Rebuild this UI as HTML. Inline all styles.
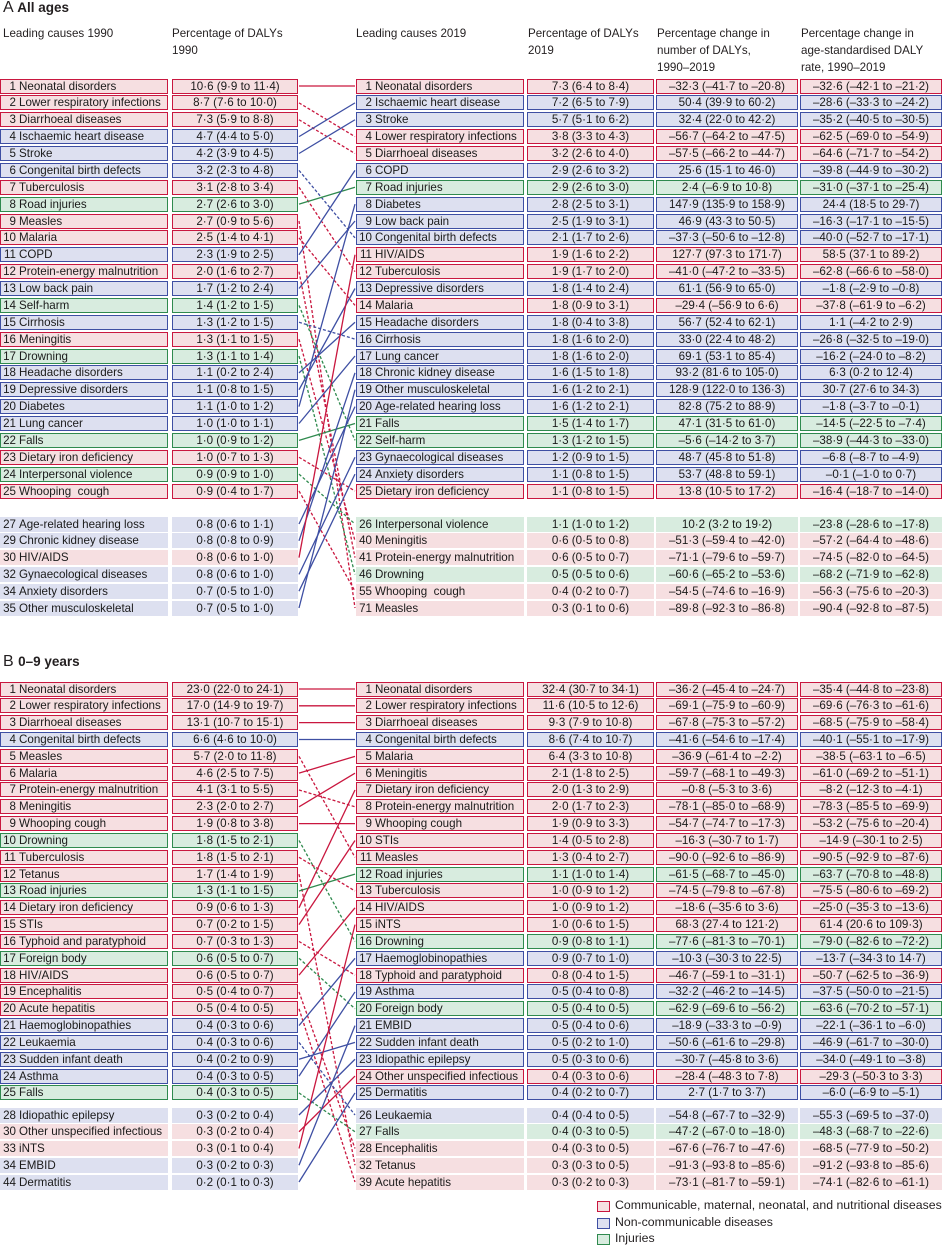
<!DOCTYPE html>
<html><head><meta charset="utf-8">
<style>
body{margin:0;background:#fff;font-family:"Liberation Sans",sans-serif;color:#231f20;}
#page{position:relative;width:942px;height:1249px;overflow:hidden;}
.t{position:absolute;white-space:nowrap;font-size:11px;}
.h{position:absolute;font-size:11.6px;line-height:17px;color:#231f20;}
.box{position:absolute;height:15px;box-sizing:border-box;font-size:11.6px;line-height:13px;white-space:nowrap;overflow:hidden;color:#1a1a1a;}
.c{text-align:center;}
svg{position:absolute;left:0;top:0;}
</style></head><body>
<div id="page">
<div class="t" style="left:3px;top:-1px;font-size:16px;">A <b style="font-size:13.5px">All ages</b></div>
<div class="h" style="left:3px;top:25px">Leading causes 1990</div>
<div class="h" style="left:172px;top:25px">Percentage of DALYs<br>1990</div>
<div class="h" style="left:356px;top:25px">Leading causes 2019</div>
<div class="h" style="left:528px;top:25px">Percentage of DALYs<br>2019</div>
<div class="h" style="left:657px;top:25px">Percentage change in<br>number of DALYs,<br>1990–2019</div>
<div class="h" style="left:801px;top:25px">Percentage change in<br>age-standardised DALY<br>rate, 1990–2019</div>
<div class="t" style="left:3px;top:653px;font-size:16px;">B <b style="font-size:13.5px">0–9 years</b></div>
<svg id="lines" width="942" height="1249"></svg>
<div id="legend">
<div class="box" style="left:597px;top:1201px;width:13px;height:11px;border:1.3px solid #c9173f;background:#f6dfe1"></div>
<div class="t" style="left:615px;top:1198px;font-size:12.3px">Communicable, maternal, neonatal, and nutritional diseases</div>
<div class="box" style="left:597px;top:1218px;width:13px;height:11px;border:1.3px solid #3e4fa3;background:#dde0f0"></div>
<div class="t" style="left:615px;top:1215px;font-size:12.3px">Non-communicable diseases</div>
<div class="box" style="left:597px;top:1234px;width:13px;height:11px;border:1.3px solid #2f8a4e;background:#d8ecdf"></div>
<div class="t" style="left:615px;top:1231px;font-size:12.3px">Injuries</div>
</div>
</div>
<script>
// ---- Panel A data ----
const aLRank=[1,2,3,4,5,6,7,8,9,10,11,12,13,14,15,16,17,18,19,20,21,22,23,24,25,27,29,30,32,34,35];
const aLName=["Neonatal disorders","Lower respiratory infections","Diarrhoeal diseases","Ischaemic heart disease","Stroke","Congenital birth defects","Tuberculosis","Road injuries","Measles","Malaria","COPD","Protein-energy malnutrition","Low back pain","Self-harm","Cirrhosis","Meningitis","Drowning","Headache disorders","Depressive disorders","Diabetes","Lung cancer","Falls","Dietary iron deficiency","Interpersonal violence","Whooping  cough","Age-related hearing loss","Chronic kidney disease","HIV/AIDS","Gynaecological diseases","Anxiety disorders","Other musculoskeletal"];
const aLCat="CCCNNNCICCNCNINCINNNNICICNNCNNN";
const aLPct=["10·6 (9·9 to 11·4)","8·7 (7·6 to 10·0)","7·3 (5·9 to 8·8)","4·7 (4·4 to 5·0)","4·2 (3·9 to 4·5)","3·2 (2·3 to 4·8)","3·1 (2·8 to 3·4)","2·7 (2·6 to 3·0)","2·7 (0·9 to 5·6)","2·5 (1·4 to 4·1)","2·3 (1·9 to 2·5)","2·0 (1·6 to 2·7)","1·7 (1·2 to 2·4)","1·4 (1·2 to 1·5)","1·3 (1·2 to 1·5)","1·3 (1·1 to 1·5)","1·3 (1·1 to 1·4)","1·1 (0·2 to 2·4)","1·1 (0·8 to 1·5)","1·1 (1·0 to 1·2)","1·0 (1·0 to 1·1)","1·0 (0·9 to 1·2)","1·0 (0·7 to 1·3)","0·9 (0·9 to 1·0)","0·9 (0·4 to 1·7)","0·8 (0·6 to 1·1)","0·8 (0·8 to 0·9)","0·8 (0·6 to 1·0)","0·8 (0·6 to 1·0)","0·7 (0·5 to 1·0)","0·7 (0·5 to 1·0)"];
const aRRank=[1,2,3,4,5,6,7,8,9,10,11,12,13,14,15,16,17,18,19,20,21,22,23,24,25,26,40,41,46,55,71];
const aRName=["Neonatal disorders","Ischaemic heart disease","Stroke","Lower respiratory infections","Diarrhoeal diseases","COPD","Road injuries","Diabetes","Low back pain","Congenital birth defects","HIV/AIDS","Tuberculosis","Depressive disorders","Malaria","Headache disorders","Cirrhosis","Lung cancer","Chronic kidney disease","Other musculoskeletal","Age-related hearing loss","Falls","Self-harm","Gynaecological diseases","Anxiety disorders","Dietary iron deficiency","Interpersonal violence","Meningitis","Protein-energy malnutrition","Drowning","Whooping  cough","Measles"];
const aRCat="CNNCCNINNNCCNCNNNNNNIINNCICCICC";
const aRPct=["7·3 (6·4 to 8·4)","7·2 (6·5 to 7·9)","5·7 (5·1 to 6·2)","3·8 (3·3 to 4·3)","3·2 (2·6 to 4·0)","2·9 (2·6 to 3·2)","2·9 (2·6 to 3·0)","2·8 (2·5 to 3·1)","2·5 (1·9 to 3·1)","2·1 (1·7 to 2·6)","1·9 (1·6 to 2·2)","1·9 (1·7 to 2·0)","1·8 (1·4 to 2·4)","1·8 (0·9 to 3·1)","1·8 (0·4 to 3·8)","1·8 (1·6 to 2·0)","1·8 (1·6 to 2·0)","1·6 (1·5 to 1·8)","1·6 (1·2 to 2·1)","1·6 (1·2 to 2·1)","1·5 (1·4 to 1·7)","1·3 (1·2 to 1·5)","1·2 (0·9 to 1·5)","1·1 (0·8 to 1·5)","1·1 (0·8 to 1·5)","1·1 (1·0 to 1·2)","0·6 (0·5 to 0·8)","0·6 (0·5 to 0·7)","0·5 (0·5 to 0·6)","0·4 (0·2 to 0·7)","0·3 (0·1 to 0·6)"];
const aRChange=["–32·3 (–41·7 to –20·8)","50·4 (39·9 to 60·2)","32·4 (22·0 to 42·2)","–56·7 (–64·2 to –47·5)","–57·5 (–66·2 to –44·7)","25·6 (15·1 to 46·0)","2·4 (–6·9 to 10·8)","147·9 (135·9 to 158·9)","46·9 (43·3 to 50·5)","–37·3 (–50·6 to –12·8)","127·7 (97·3 to 171·7)","–41·0 (–47·2 to –33·5)","61·1 (56·9 to 65·0)","–29·4 (–56·9 to 6·6)","56·7 (52·4 to 62·1)","33·0 (22·4 to 48·2)","69·1 (53·1 to 85·4)","93·2 (81·6 to 105·0)","128·9 (122·0 to 136·3)","82·8 (75·2 to 88·9)","47·1 (31·5 to 61·0)","–5·6 (–14·2 to 3·7)","48·7 (45·8 to 51·8)","53·7 (48·8 to 59·1)","13·8 (10·5 to 17·2)","10·2 (3·2 to 19·2)","–51·3 (–59·4 to –42·0)","–71·1 (–79·6 to –59·7)","–60·6 (–65·2 to –53·6)","–54·5 (–74·6 to –16·9)","–89·8 (–92·3 to –86·8)"];
const aRRate=["–32·6 (–42·1 to –21·2)","–28·6 (–33·3 to –24·2)","–35·2 (–40·5 to –30·5)","–62·5 (–69·0 to –54·9)","–64·6 (–71·7 to –54·2)","–39·8 (–44·9 to –30·2)","–31·0 (–37·1 to –25·4)","24·4 (18·5 to 29·7)","–16·3 (–17·1 to –15·5)","–40·0 (–52·7 to –17·1)","58·5 (37·1 to 89·2)","–62·8 (–66·6 to –58·0)","–1·8 (–2·9 to –0·8)","–37·8 (–61·9 to –6·2)","1·1 (–4·2 to 2·9)","–26·8 (–32·5 to –19·0)","–16·2 (–24·0 to –8·2)","6·3 (0·2 to 12·4)","30·7 (27·6 to 34·3)","–1·8 (–3·7 to –0·1)","–14·5 (–22·5 to –7·4)","–38·9 (–44·3 to –33·0)","–6·8 (–8·7 to –4·9)","–0·1 (–1·0 to 0·7)","–16·4 (–18·7 to –14·0)","–23·8 (–28·6 to –17·8)","–57·2 (–64·4 to –48·6)","–74·5 (–82·0 to –64·5)","–68·2 (–71·9 to –62·8)","–56·3 (–75·6 to –20·3)","–90·4 (–92·8 to –87·5)"];
// ---- Panel B data ----
const bLRank=[1,2,3,4,5,6,7,8,9,10,11,12,13,14,15,16,17,18,19,20,21,22,23,24,25,28,30,33,34,44];
const bLName=["Neonatal disorders","Lower respiratory infections","Diarrhoeal diseases","Congenital birth defects","Measles","Malaria","Protein-energy malnutrition","Meningitis","Whooping cough","Drowning","Tuberculosis","Tetanus","Road injuries","Dietary iron deficiency","STIs","Typhoid and paratyphoid","Foreign body","HIV/AIDS","Encephalitis","Acute hepatitis","Haemoglobinopathies","Leukaemia","Sudden infant death","Asthma","Falls","Idiopathic epilepsy","Other unspecified infectious","iNTS","EMBID","Dermatitis"];
const bLCat="CCCNCCCCCICCICCCICCCNNNNINCCNN";
const bLPct=["23·0 (22·0 to 24·1)","17·0 (14·9 to 19·7)","13·1 (10·7 to 15·1)","6·6 (4·6 to 10·0)","5·7 (2·0 to 11·8)","4·6 (2·5 to 7·5)","4·1 (3·1 to 5·5)","2·3 (2·0 to 2·7)","1·9 (0·8 to 3·8)","1·8 (1·5 to 2·1)","1·8 (1·5 to 2·1)","1·7 (1·4 to 1·9)","1·3 (1·1 to 1·5)","0·9 (0·6 to 1·3)","0·7 (0·2 to 1·5)","0·7 (0·3 to 1·3)","0·6 (0·5 to 0·7)","0·6 (0·5 to 0·7)","0·5 (0·4 to 0·7)","0·5 (0·4 to 0·5)","0·4 (0·3 to 0·6)","0·4 (0·3 to 0·6)","0·4 (0·2 to 0·9)","0·4 (0·3 to 0·5)","0·4 (0·3 to 0·5)","0·3 (0·2 to 0·4)","0·3 (0·2 to 0·4)","0·3 (0·1 to 0·4)","0·3 (0·2 to 0·3)","0·2 (0·1 to 0·3)"];
const bRRank=[1,2,3,4,5,6,7,8,9,10,11,12,13,14,15,16,17,18,19,20,21,22,23,24,25,26,27,28,32,39];
const bRName=["Neonatal disorders","Lower respiratory infections","Diarrhoeal diseases","Congenital birth defects","Malaria","Meningitis","Dietary iron deficiency","Protein-energy malnutrition","Whooping cough","STIs","Measles","Road injuries","Tuberculosis","HIV/AIDS","iNTS","Drowning","Haemoglobinopathies","Typhoid and paratyphoid","Asthma","Foreign body","EMBID","Sudden infant death","Idiopathic epilepsy","Other unspecified infectious","Dermatitis","Leukaemia","Falls","Encephalitis","Tetanus","Acute hepatitis"];
const bRCat="CCCNCCCCCCCICCCINCNINNNCNNICCC";
const bRPct=["32·4 (30·7 to 34·1)","11·6 (10·5 to 12·6)","9·3 (7·9 to 10·8)","8·6 (7·4 to 10·7)","6·4 (3·3 to 10·8)","2·1 (1·8 to 2·5)","2·0 (1·3 to 2·9)","2·0 (1·7 to 2·3)","1·9 (0·9 to 3·3)","1·4 (0·5 to 2·8)","1·3 (0·4 to 2·7)","1·1 (1·0 to 1·4)","1·0 (0·9 to 1·2)","1·0 (0·9 to 1·2)","1·0 (0·6 to 1·5)","0·9 (0·8 to 1·1)","0·9 (0·7 to 1·0)","0·8 (0·4 to 1·5)","0·5 (0·4 to 0·8)","0·5 (0·4 to 0·5)","0·5 (0·4 to 0·6)","0·5 (0·2 to 1·0)","0·5 (0·3 to 0·6)","0·4 (0·3 to 0·6)","0·4 (0·2 to 0·7)","0·4 (0·4 to 0·5)","0·4 (0·3 to 0·5)","0·4 (0·3 to 0·5)","0·3 (0·3 to 0·5)","0·3 (0·2 to 0·3)"];
const bRChange=["–36·2 (–45·4 to –24·7)","–69·1 (–75·9 to –60·9)","–67·8 (–75·3 to –57·2)","–41·6 (–54·6 to –17·4)","–36·9 (–61·4 to –2·2)","–59·7 (–68·1 to –49·3)","–0·8 (–5·3 to 3·6)","–78·1 (–85·0 to –68·9)","–54·7 (–74·7 to –17·3)","–16·3 (–30·7 to 1·7)","–90·0 (–92·6 to –86·9)","–61·5 (–68·7 to –45·0)","–74·5 (–79·8 to –67·8)","–18·6 (–35·6 to 3·6)","68·3 (27·4 to 121·2)","–77·6 (–81·3 to –70·1)","–10·3 (–30·3 to 22·5)","–46·7 (–59·1 to –31·1)","–32·2 (–46·2 to –14·5)","–62·9 (–69·6 to –56·2)","–18·9 (–33·3 to –0·9)","–50·6 (–61·6 to –29·8)","–30·7 (–45·8 to 3·6)","–28·4 (–48·3 to 7·8)","2·7 (1·7 to 3·7)","–54·8 (–67·7 to –32·9)","–47·2 (–67·0 to –18·0)","–67·6 (–76·7 to –47·6)","–91·3 (–93·8 to –85·6)","–73·1 (–81·7 to –59·1)"];
const bRRate=["–35·4 (–44·8 to –23·8)","–69·6 (–76·3 to –61·6)","–68·5 (–75·9 to –58·4)","–40·1 (–55·1 to –17·9)","–38·5 (–63·1 to –6·5)","–61·0 (–69·2 to –51·1)","–8·2 (–12·3 to –4·1)","–78·3 (–85·5 to –69·9)","–53·2 (–75·6 to –20·4)","–14·9 (–30·1 to 2·5)","–90·5 (–92·9 to –87·6)","–63·7 (–70·8 to –48·8)","–75·5 (–80·6 to –69·2)","–25·0 (–35·3 to –13·6)","61·4 (20·6 to 109·3)","–79·0 (–82·6 to –72·2)","–13·7 (–34·3 to 14·7)","–50·7 (–62·5 to –36·9)","–37·5 (–50·0 to –21·5)","–63·6 (–70·2 to –57·1)","–22·1 (–36·1 to –6·0)","–46·9 (–61·7 to –30·0)","–34·0 (–49·1 to –3·8)","–29·3 (–50·3 to 3·3)","–6·0 (–6·9 to –5·1)","–55·3 (–69·5 to –37·0)","–48·3 (–68·7 to –22·6)","–68·5 (–77·9 to –50·2)","–91·2 (–93·8 to –85·6)","–74·1 (–82·6 to –61·1)"];

const BORDER={C:"#c9173f",N:"#3e4fa3",I:"#2f8a4e"};
const FILL={C:"#f6dfe1",N:"#dde0f0",I:"#d8ecdf"};
const page=document.getElementById('page');
const svg=document.getElementById('lines');
const NS="http://www.w3.org/2000/svg";

function rowY(i,geo){return i<25?geo.top+i*geo.pitch:geo.bot+(i-25)*geo.bpitch;}
function mkBox(x,w,y,cat,top,html,center,name){
  const d=document.createElement('div');
  d.className='box'+(center?' c':'');
  
  
  d.style.left=x+'px';d.style.width=w+'px';d.style.top=(y-7.5)+'px';
  d.style.background=FILL[cat];
  d.style.border=top?('1.3px solid '+BORDER[cat]):'1.3px solid '+FILL[cat];
  d.innerHTML=html;
  page.appendChild(d);
}
function causeHtml(r,n){return '<span style="display:inline-block;width:15px;text-align:right;padding-right:3px">'+r+'</span>'+n.replace(/  /g,'&nbsp; ');}
function section(p,geo,LR,LN,LC,LP,RR,RN,RC,RP,RCH,RRT){
  for(let i=0;i<LN.length;i++){
    const y=rowY(i,geo),top=i<25,c=LC[i];
    mkBox(0,168,y,c,top,causeHtml(LR[i],LN[i]),false,p+'-1990-cause-'+LR[i]);
    mkBox(172,126,y,c,top,LP[i],true,p+'-1990-pct-'+LR[i]);
  }
  for(let j=0;j<RN.length;j++){
    const y=rowY(j,geo),top=j<25,c=RC[j];
    mkBox(356,168,y,c,top,causeHtml(RR[j],RN[j]),false,p+'-2019-cause-'+RR[j]);
    mkBox(527,127,y,c,top,RP[j],true,p+'-2019-pct-'+RR[j]);
    mkBox(656,142,y,c,top,RCH[j],true,p+'-change-number-'+RR[j]);
    mkBox(800,142,y,c,top,RRT[j],true,p+'-change-rate-'+RR[j]);
  }
  for(let i=0;i<LN.length;i++){
    const j=RN.indexOf(LN[i]); if(j<0) continue;
    const l=document.createElementNS(NS,'line');
    
    
    l.setAttribute('x1',299);l.setAttribute('x2',355);
    l.setAttribute('y1',rowY(i,geo));l.setAttribute('y2',rowY(j,geo));
    l.setAttribute('stroke',BORDER[LC[i]]);l.setAttribute('stroke-width',1.3);
    if(RR[j]>LR[i]) l.setAttribute('stroke-dasharray','3,2');
    svg.appendChild(l);
  }
}
section('a',{top:86,pitch:16.875,bot:524,bpitch:16.8},aLRank,aLName,aLCat,aLPct,aRRank,aRName,aRCat,aRPct,aRChange,aRRate);
section('b',{top:689,pitch:16.83,bot:1115,bpitch:16.75},bLRank,bLName,bLCat,bLPct,bRRank,bRName,bRCat,bRPct,bRChange,bRRate);
</script>
</body></html>
